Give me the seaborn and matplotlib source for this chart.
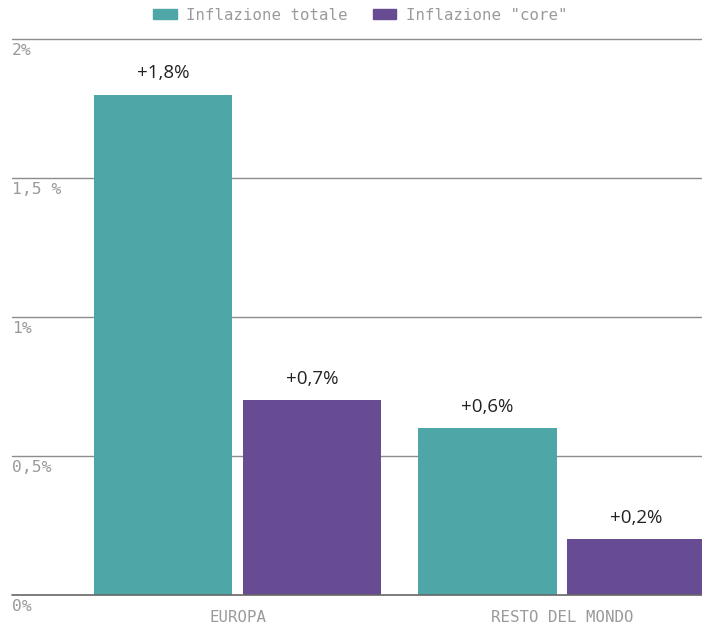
import pandas as pd
import numpy as np
import seaborn as sns
import matplotlib.pyplot as plt

# Inflazione: totale vs "core", Europa e resto del mondo
regions = ['EUROPA', 'RESTO DEL MONDO']
series = ['Inflazione totale', 'Inflazione "core"']
totale = [1.8, 0.6]
core = [0.7, 0.2]
value_labels = ['+1,8%', '+0,6%', '+0,7%', '+0,2%']
ytick_values = [0, 0.5, 1, 1.5, 2]
ytick_labels = ['0%', '0,5%', '1%', '1,5 %', '2%']

colors = ['#4fa6a7', '#684c93']
mono = 'DejaVu Sans Mono'
grey_txt = '#9a9a9a'

df = pd.DataFrame({
    'Regione': regions * 2,
    'Serie': [series[0]] * 2 + [series[1]] * 2,
    'Valore': totale + core,
})

sns.set_style('white')
fig = plt.figure(figsize=(7.02, 6.27), dpi=100)
ax = fig.add_axes([12 / 702, 32 / 627, 690 / 702, 556 / 627])

sns.barplot(data=df, x='Regione', y='Valore', hue='Serie', order=regions,
            hue_order=series, palette=colors, width=0.918, gap=0.07,
            saturation=1, linewidth=0, legend=False, ax=ax)

ax.set_xlim(-0.695, 1.431)
ax.set_ylim(0, 2)

# gridlines (behind bars), baseline on top
for v in ytick_values:
    if v == 0:
        ax.axhline(v, color='#666666', lw=1.2, zorder=5, clip_on=False)
    else:
        ax.axhline(v, color='#8c8c8c', lw=1, zorder=0, clip_on=False)
ax.set_yticks([])
for v, lab in zip(ytick_values, ytick_labels):
    ax.annotate(lab, xy=(0, v), xycoords=('axes fraction', 'data'),
                xytext=(0, -3), textcoords='offset points', ha='left', va='top',
                fontsize=11.8, family=mono, color=grey_txt)

# value labels above bars
for patch, lab in zip(ax.patches, value_labels):
    ax.annotate(lab, xy=(patch.get_x() + patch.get_width() / 2, patch.get_height()),
                xytext=(0, 9), textcoords='offset points', ha='center', va='bottom',
                fontsize=13.5, family=['Open Sans', 'DejaVu Sans'], color='#222222')

ax.set_xlabel('')
ax.set_ylabel('')
ax.tick_params(axis='x', length=0, pad=11)
for t in ax.get_xticklabels():
    t.set_family(mono)
    t.set_fontsize(11.3)
    t.set_color(grey_txt)
sns.despine(ax=ax, left=True, bottom=True, top=True, right=True)

handles = [plt.Rectangle((0, 0), 1, 1, color=c) for c in colors]
fig.legend(handles, series, loc='center', bbox_to_anchor=(0.5 + 9 / 702, 1 - 15 / 627),
           ncol=2, frameon=False, handlelength=1.5, handleheight=0.55,
           handletextpad=0.6, columnspacing=1.6,
           prop={'family': mono, 'size': 11.3}, labelcolor=grey_txt)

fig.savefig('out.png', dpi=100)
